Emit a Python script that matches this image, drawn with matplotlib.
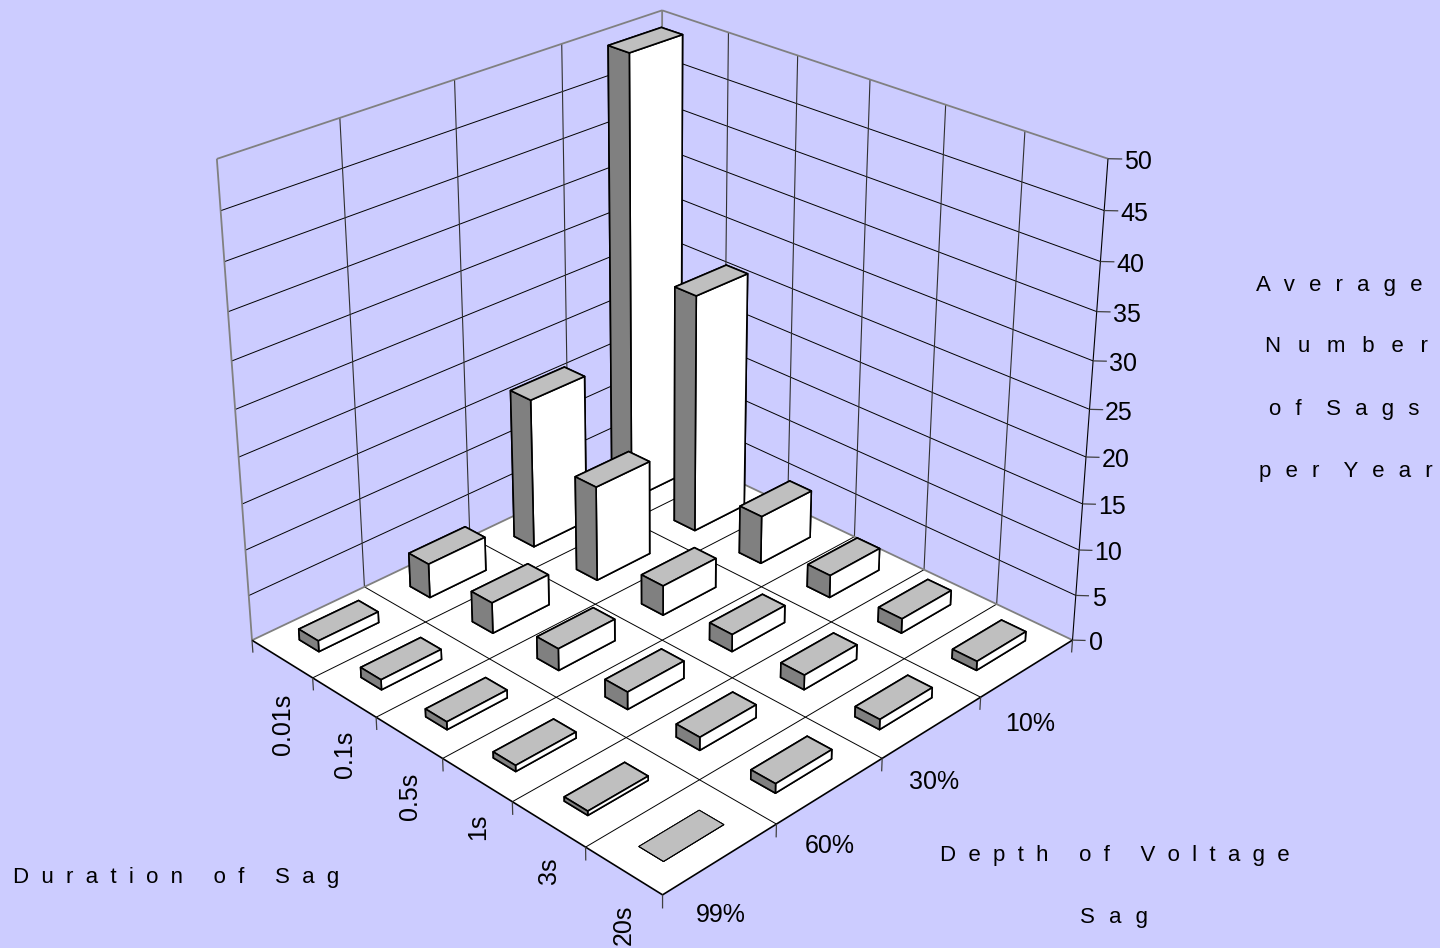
import numpy as np
import matplotlib
matplotlib.use('Agg')
import matplotlib.pyplot as plt
from mpl_toolkits.mplot3d.art3d import Poly3DCollection, Line3DCollection

durations = ['0.01s', '0.1s', '0.5s', '1s', '3s', '20s']
depths = ['99%', '60%', '30%', '10%']
z_ticks = [0, 5, 10, 15, 20, 25, 30, 35, 40, 45, 50]

# average number of sags per year, one list per depth, in order of duration
sags_99 = [1.2, 1.1, 0.85, 0.65, 0.45, 0.0]
sags_60 = [3.8, 3.4, 2.4, 1.9, 1.4, 1.0]
sags_30 = [16.8, 10.6, 3.3, 1.9, 1.6, 1.1]
sags_10 = [49.8, 26.7, 5.4, 2.5, 1.6, 1.0]

BACKGROUND = '#CCCCFF'
FRAME = '#808080'
W, H = 1440, 948

plt.rcParams['font.family'] = ['Liberation Sans', 'DejaVu Sans']


def fit_camera():
	''' Solves the 3x4 camera (x, y, z) -> figure pixels from known chart corners '''
	pairs = [
		((0, 0, 0), (252, 640)), ((1, 0, 0), (312.7, 678)), ((2, 0, 0), (376, 716.7)),
		((3, 0, 0), (442.7, 758.3)), ((4, 0, 0), (512.7, 802.3)), ((5, 0, 0), (585, 847.3)),
		((6, 0, 0), (662.3, 895)), ((6, 1, 0), (776.7, 824)), ((6, 2, 0), (882.3, 758.3)),
		((6, 3, 0), (980.7, 696.7)), ((6, 4, 0), (1072.5, 640)), ((0, 4, 0), (662, 446)),
		((0, 0, 50), (217, 159)), ((6, 4, 50), (1108, 159)), ((0, 4, 50), (662, 10)),
	]
	rows, rhs = [], []
	for (x, y, z), (px, py) in pairs:
		rows.append([x, y, z, 1, 0, 0, 0, 0, -px * x, -px * y, -px * z])
		rows.append([0, 0, 0, 0, x, y, z, 1, -py * x, -py * y, -py * z])
		rhs += [px, py]
	p = np.linalg.lstsq(np.array(rows, float), np.array(rhs, float), rcond=None)[0]
	return np.append(p, 1).reshape(3, 4)


def to_px(x, y, z):
	u, v, w = camera @ np.array([x, y, z, 1.0])
	return u / w, v / w


def pixel_text(px, py, s, **kwargs):
	fig.text(px / W, 1 - py / H, s, **kwargs)


def spaced(s, gap='  ', word=' '):
	return word.join(gap.join(part) for part in s.split(' ')) if word != ' ' else gap.join(s)


def add_lines(segments, color='black', lw=0.7):
	ax.add_collection3d(Line3DCollection(segments, colors=color, linewidths=lw, zorder=2))


camera = fit_camera()

fig = plt.figure(figsize=(W / 100, H / 100), dpi=100, facecolor=BACKGROUND)

# mplot3d keeps its box square, so use a square one that overhangs the figure
ax = fig.add_axes([0, (H - W) / 2 / H, 1, W / H], projection='3d')
ax.set_axis_off()
ax.patch.set_visible(False)
ax.computed_zorder = False

proj = np.vstack([camera[0], camera[1], [0, 0, 0, -1], camera[2]])
ax.get_proj = lambda: proj
ax.viewLim.intervalx = (0, W)
ax.viewLim.intervaly = (H + (W - H) / 2, -(W - H) / 2)

nx, ny = len(durations), len(depths)
top = z_ticks[-1]

floor = Poly3DCollection([[(0, 0, 0), (nx, 0, 0), (nx, ny, 0), (0, ny, 0)]],
	facecolor='white', edgecolor='none', zorder=1)
ax.add_collection3d(floor)

# floor grid
add_lines([[(i, 0, 0), (i, ny, 0)] for i in range(1, nx)])
add_lines([[(0, j, 0), (nx, j, 0)] for j in range(1, ny)])

# wall grid
add_lines([[(0, 0, z), (0, ny, z)] for z in z_ticks[1:-1]])
add_lines([[(0, ny, z), (nx, ny, z)] for z in z_ticks[1:-1]])
add_lines([[(i, ny, 0), (i, ny, top)] for i in range(1, nx)], color='#303030', lw=0.8)
add_lines([[(0, j, 0), (0, j, top)] for j in range(1, ny)], color='#303030', lw=0.8)

# wall frame
add_lines([
	[(0, 0, 0), (0, 0, top)], [(0, 0, top), (0, ny, top)], [(0, ny, top), (nx, ny, top)],
	[(0, ny, 0), (0, ny, top)], [(0, 0, 0), (0, ny, 0)], [(0, ny, 0), (nx, ny, 0)],
], color=FRAME, lw=1.3)
add_lines([[(nx, ny, 0), (nx, ny, top)]], lw=0.8)

# front floor edges
add_lines([[(0, 0, 0), (nx, 0, 0)], [(nx, 0, 0), (nx, ny, 0)]], lw=1.2)

# axis ticks
add_lines([[(i, 0, 0), (i, 0, -1.4)] for i in range(nx + 1)], color='#404040', lw=0.9)
add_lines([[(nx, j, 0), (nx, j, -1.4)] for j in range(1, ny + 1)], color='#404040', lw=0.9)
add_lines([[(nx, ny, z), (nx + 0.1, ny + 0.06, z)] for z in z_ticks], color='#404040', lw=0.9)
for z in z_ticks:
	px, py = to_px(nx + 0.1, ny + 0.06, z)
	pixel_text(px + (2 if z >= 10 else 3), py + 3, str(z), fontsize=18, ha='left', va='center', color='black')

# bars, back to front
sags = [sags_99, sags_60, sags_30, sags_10]
bar_dx, bar_dy = 0.32, 0.53
# faces in bar3d order: bottom, top, -y, +y, -x, +x
faces = ['white', '#BFBFBF', '#808080', '#808080', 'white', 'white']
order = 10
for i in range(nx):
	for j in range(ny - 1, -1, -1):
		value = sags[j][i]
		ax.bar3d(i + (1 - bar_dx) / 2, j + (1 - bar_dy) / 2, 0, bar_dx, bar_dy, value,
			color=faces, shade=False, edgecolor='black', linewidth=1.2 if value > 0 else 0.7, zorder=order)
		order += 1

# category labels
duration_pos = [(283, 724), (345, 754), (410, 796), (478, 827), (549, 871), (624, 925)]
for label, (px, py) in zip(durations, duration_pos):
	pixel_text(px, py, label, fontsize=18, rotation=90, ha='center', va='center')
depth_pos = [(721, 915), (830, 846), (934, 782), (1030, 724)]
for label, (px, py) in zip(depths, depth_pos):
	pixel_text(px, py, label, fontsize=18, ha='center', va='center')

# axis titles
title_font = dict(fontsize=16, va='baseline', color='black')
wide = '  \u200a'
pixel_text(13, 882.7, spaced('Duration of Sag'), ha='left', **title_font)
pixel_text(1115, 860.7, spaced('Depth of Voltage'), ha='center', **title_font)
pixel_text(1114, 923.3, spaced('Sag', gap=wide), ha='center', **title_font)
pixel_text(1339, 290.7, spaced('Average', gap=wide), ha='center', **title_font)
pixel_text(1346, 351.7, spaced('Number', gap='  \u2009'), ha='center', **title_font)
pixel_text(1344, 415, spaced('of Sags', gap=wide, word='    '), ha='center', **title_font)
pixel_text(1346, 477, spaced('per Year', gap=wide, word='    '), ha='center', **title_font)

fig.savefig('out.png', dpi=100, facecolor=BACKGROUND)
